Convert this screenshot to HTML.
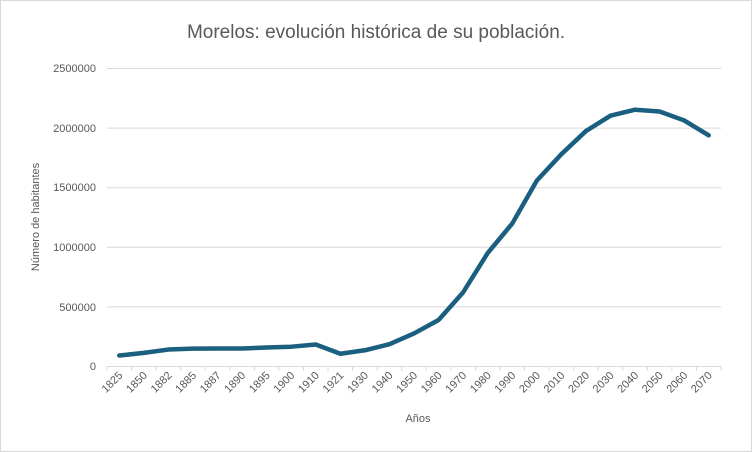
<!DOCTYPE html>
<html><head><style>
body{margin:0;background:#fff;}
svg{display:block;font-family:"Liberation Sans",sans-serif;}
</style></head><body>
<svg width="752" height="452" viewBox="0 0 752 452">
<rect x="0.5" y="0.5" width="751" height="451" fill="#fff" stroke="#d9d9d9"/>
<text x="376" y="38" text-anchor="middle" font-size="19" fill="#595959">Morelos: evolución histórica de su población.</text>
<g stroke="#d9d9d9" stroke-width="1">
<line x1="107" x2="721" y1="68.5" y2="68.5"/>
<line x1="107" x2="721" y1="128.1" y2="128.1"/>
<line x1="107" x2="721" y1="187.7" y2="187.7"/>
<line x1="107" x2="721" y1="247.3" y2="247.3"/>
<line x1="107" x2="721" y1="306.9" y2="306.9"/>
<line x1="107" x2="721" y1="366.5" y2="366.5"/>
</g>
<g font-size="11" fill="#595959" text-anchor="end">
<text x="96" y="72">2500000</text>
<text x="96" y="132">2000000</text>
<text x="96" y="191">1500000</text>
<text x="96" y="251">1000000</text>
<text x="96" y="311">500000</text>
<text x="96" y="370">0</text>
</g>
<text transform="translate(39,217) rotate(-90)" text-anchor="middle" font-size="11" fill="#595959">Número de habitantes</text>
<text x="418" y="422" text-anchor="middle" font-size="11" fill="#595959">Años</text>
<g id="ticks" stroke="#d9d9d9"></g>
<g id="xl" font-size="11" fill="#595959" text-anchor="end"></g>
<polyline id="ln" fill="none" stroke="#1a5f7f" stroke-width="4.5" stroke-linejoin="round" stroke-linecap="round" points=""/>
</svg>
<script>
var yrs=[1825,1850,1882,1885,1887,1890,1895,1900,1910,1921,1930,1940,1950,1960,1970,1980,1990,2000,2010,2020,2030,2040,2050,2060,2070];
var v=[88000,110000,138000,146000,147000,147000,155000,162000,180000,103000,132000,183000,273000,386000,618000,947000,1195000,1555000,1777000,1971000,2100000,2150000,2135000,2060000,1935000];
var x0=107,w=24.56,ns="http://www.w3.org/2000/svg",pts=[];
var t=document.getElementById('ticks'),xl=document.getElementById('xl');
for(var i=0;i<=25;i++){var l=document.createElementNS(ns,'line');var x=x0+i*w;l.setAttribute('x1',x);l.setAttribute('x2',x);l.setAttribute('y1',366);l.setAttribute('y2',371);t.appendChild(l);}
for(var i=0;i<25;i++){var cx=x0+(i+0.5)*w;pts.push(cx+','+(366-v[i]*59.6/500000));
var tx=document.createElementNS(ns,'text');tx.setAttribute('transform','translate('+(cx+4)+',376) rotate(-45)');tx.textContent=yrs[i];xl.appendChild(tx);}
document.getElementById('ln').setAttribute('points',pts.join(' '));
</script>
</body></html>
